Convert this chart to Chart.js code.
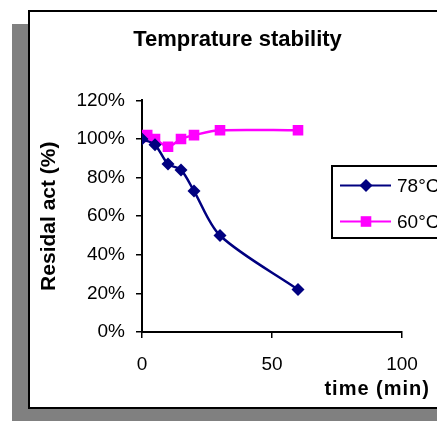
<!DOCTYPE html>
<html>
<head>
<meta charset="utf-8">
<script src="https://cdn.jsdelivr.net/npm/chart.js@4.4.1/dist/chart.umd.min.js"></script>
<style>
  html, body { margin: 0; padding: 0; overflow: hidden; background: #fff; }
  #shadow { position: absolute; left: 12px; top: 24px; width: 500px; height: 400px; background: #808080; }
  #frame { position: absolute; left: 28px; top: 10px; width: 480px; height: 395px; border: 2px solid #000; background: #fff; }
  #chart { position: absolute; left: 0; top: 0; }
</style>
</head>
<body>
<div id="shadow"></div>
<div id="frame"></div>
<canvas id="chart" width="475" height="421"></canvas>
<script>
// time points (min) and residual activity (%)
const time78 = [0, 5, 10, 15, 20, 30, 60];
const act78 = [100, 97, 87, 84, 73, 50, 22];
const time60 = [0, 2, 5, 10, 15, 20, 30, 60];
const act60 = [101, 102, 100, 96, 100, 102, 104.5, 104.5];
const seriesLabels = ['78°C', '60°C'];
const xTicks = [0, 50, 100];
const yTicks = [0, 20, 40, 60, 80, 100, 120];

const FONT = '"Liberation Sans", Arial, sans-serif';

function toPoints(xs, ys) {
    return xs.map((x, i) => ({ x: x, y: ys[i] }));
}

function drawMarker(ctx, style, x, y, r, color) {
    ctx.save();
    ctx.fillStyle = color;
    ctx.beginPath();
    if (style === 'rectRot') {
        ctx.moveTo(x, y - r);
        ctx.lineTo(x + r, y);
        ctx.lineTo(x, y + r);
        ctx.lineTo(x - r, y);
        ctx.closePath();
    } else {
        const s = r * Math.SQRT1_2;
        ctx.rect(x - s, y - s, 2 * s, 2 * s);
    }
    ctx.fill();
    ctx.restore();
}

// legend box and x axis title, placed like the original sheet
const extras = {
    id: 'extras',
    afterDraw(chart) {
        const ctx = chart.ctx;
        ctx.save();
        ctx.strokeStyle = '#000';
        ctx.lineWidth = 2;
        ctx.strokeRect(332, 166, 200, 72);

        const rows = [185.5, 221.5];
        chart.data.datasets.forEach((ds, i) => {
            const y = rows[i];
            ctx.strokeStyle = ds.borderColor;
            ctx.lineWidth = 2;
            ctx.beginPath();
            ctx.moveTo(340, y);
            ctx.lineTo(391, y);
            ctx.stroke();
            drawMarker(ctx, ds.pointStyle, 366, y, ds.pointRadius, ds.borderColor);
            ctx.fillStyle = '#000';
            ctx.font = '19px ' + FONT;
            ctx.textAlign = 'left';
            ctx.textBaseline = 'middle';
            ctx.fillText(ds.label, 397, y + 1);
        });

        ctx.font = 'bold 20px ' + FONT;
        ctx.letterSpacing = '1px';
        ctx.textAlign = 'right';
        ctx.textBaseline = 'middle';
        ctx.fillStyle = '#000';
        ctx.fillText('time (min)', 430, 389);
        ctx.restore();
    }
};

new Chart(document.getElementById('chart'), {
    type: 'line',
    data: {
        datasets: [{
            label: seriesLabels[0],
            data: toPoints(time78, act78),
            borderColor: '#000080',
            backgroundColor: '#000080',
            borderWidth: 2.5,
            pointStyle: 'rectRot',
            pointRadius: 6.5,
            pointBorderWidth: 0,
            tension: 0.3
        }, {
            label: seriesLabels[1],
            data: toPoints(time60, act60),
            borderColor: '#FF00FF',
            backgroundColor: '#FF00FF',
            borderWidth: 2.5,
            pointStyle: 'rect',
            pointRadius: 7.5,
            pointBorderWidth: 0,
            tension: 0.3
        }]
    },
    options: {
        responsive: false,
        animation: false,
        layout: { padding: 0 },
        plugins: {
            legend: { display: false },
            tooltip: { enabled: false },
            title: {
                display: true,
                text: 'Temprature stability',
                color: '#000',
                font: { family: FONT, size: 22, weight: 'bold', lineHeight: 1.2 },
                padding: { top: 27, bottom: 47 }
            }
        },
        scales: {
            x: {
                type: 'linear',
                min: 0,
                max: 100,
                afterFit: scale => { scale.height = 89; },
                afterBuildTicks: scale => { scale.ticks = xTicks.map(v => ({ value: v })); },
                ticks: { color: '#000', font: { family: FONT, size: 19 }, padding: 15 },
                grid: { drawOnChartArea: false, drawTicks: true, tickLength: 6, color: '#000', lineWidth: 1.5 },
                border: { display: true, color: '#000', width: 2 }
            },
            y: {
                min: 0,
                max: 120,
                afterFit: scale => { scale.width = 142; },
                afterBuildTicks: scale => { scale.ticks = yTicks.map(v => ({ value: v })); },
                ticks: { color: '#000', font: { family: FONT, size: 19 }, padding: 11, callback: v => v + '%' },
                grid: { drawOnChartArea: false, drawTicks: true, tickLength: 6, color: '#000', lineWidth: 1.5 },
                border: { display: true, color: '#000', width: 2 },
                title: {
                    display: true,
                    text: 'Residal act (%)',
                    color: '#000',
                    font: { family: FONT, size: 21, weight: 'bold', lineHeight: 1.2 },
                    padding: { top: 37, bottom: 0 }
                }
            },
            // empty right-hand strip so the plot ends at 100 min while the title stays centred in the frame
            yRight: {
                position: 'right',
                display: true,
                afterFit: scale => { scale.width = 73; },
                ticks: { display: false },
                grid: { display: false },
                border: { display: false }
            }
        }
    },
    plugins: [extras]
});
</script>
</body>
</html>
